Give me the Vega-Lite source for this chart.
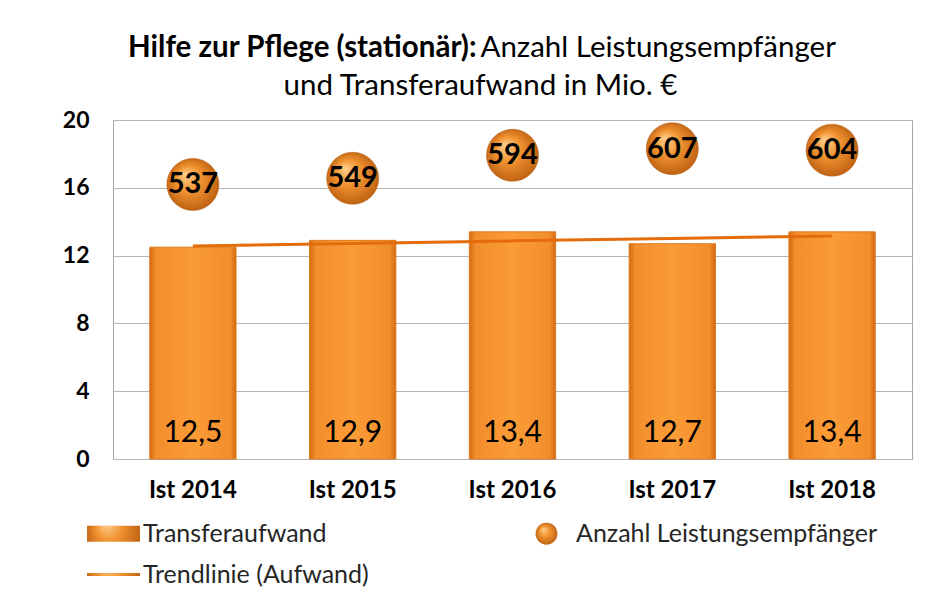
{
  "$schema": "https://vega.github.io/schema/vega-lite/v6.json",
  "width": 799,
  "height": 339,
  "autosize": {"type": "none"},
  "padding": {"left": 113, "top": 120, "right": 31, "bottom": 148},
  "background": "white",
  "data": {"values": [
    {"year": "Ist 2014", "aufwand": 12.5, "empfaenger": 537, "trend": 12.57, "series": "Anzahl Leistungsempfänger"},
    {"year": "Ist 2015", "aufwand": 12.9, "empfaenger": 549, "trend": 12.72, "series": "Anzahl Leistungsempfänger"},
    {"year": "Ist 2016", "aufwand": 13.4, "empfaenger": 594, "trend": 12.87, "series": "Anzahl Leistungsempfänger"},
    {"year": "Ist 2017", "aufwand": 12.7, "empfaenger": 607, "trend": 13.01, "series": "Anzahl Leistungsempfänger"},
    {"year": "Ist 2018", "aufwand": 13.4, "empfaenger": 604, "trend": 13.16, "series": "Anzahl Leistungsempfänger"}
  ]},
  "resolve": {"scale": {"y": "independent"}, "axis": {"x": "independent", "y": "independent"}},
  "layer": [
    {
      "layer": [
        {
          "mark": {
            "type": "bar",
            "fill": {"gradient": "linear", "x1": 0, "y1": 0, "x2": 1, "y2": 0, "stops": [
              {"offset": 0, "color": "#d26a12"},
              {"offset": 0.07, "color": "#f28e2c"},
              {"offset": 0.5, "color": "#fb9c37"},
              {"offset": 0.93, "color": "#f28e2c"},
              {"offset": 1, "color": "#d26a12"}
            ]},
            "stroke": "#dd7a1c",
            "strokeWidth": 1
          },
          "encoding": {
            "x": {"field": "year", "type": "nominal", "sort": null,
              "scale": {"paddingInner": 0.46, "paddingOuter": 0.23},
              "axis": {"orient": "bottom", "title": null, "labelAngle": 0, "labelFont": "Lato", "labelFontWeight": "bold", "labelFontSize": 24, "labelColor": "#000000", "labelPadding": 19, "ticks": false, "domain": false, "grid": false}},
            "y": {"field": "aufwand", "type": "quantitative",
              "scale": {"domain": [0, 20], "nice": false},
              "axis": {"values": [0, 4, 8, 12, 16, 20], "grid": true, "gridColor": "#b5b5b5", "domain": false, "ticks": false,
                "labelFont": "Lato", "labelFontWeight": "bold", "labelFontSize": 23, "labelColor": "#000000", "labelPadding": 24,
                "title": "und Transferaufwand in Mio. €", "titleAngle": 0, "titleX": 367, "titleY": -35, "titleAlign": "center", "titleBaseline": "middle",
                "titleFont": "Lato", "titleFontSize": 29.5, "titleFontWeight": "normal", "titleColor": "#000000"}}
          }
        },
        {
          "mark": {"type": "text", "font": "Lato", "fontSize": 30, "color": "#000000", "baseline": "middle"},
          "encoding": {
            "x": {"field": "year", "type": "nominal", "sort": null},
            "y": {"datum": 1.55},
            "text": {"field": "aufwand", "type": "quantitative", "format": ".1f"}
          }
        },
        {
          "mark": {"type": "line", "color": "#e46c0a", "strokeWidth": 3},
          "encoding": {
            "x": {"field": "year", "type": "nominal", "sort": null},
            "y": {"field": "trend", "type": "quantitative"}
          }
        }
      ]
    },
    {
      "layer": [
        {
          "mark": {
            "type": "point", "filled": true, "size": 10000, "opacity": 1,
            "fill": {"gradient": "radial", "x1": 0.35, "y1": 0.3, "r1": 0, "x2": 0.5, "y2": 0.5, "r2": 0.55, "stops": [
              {"offset": 0, "color": "#ffd08f"},
              {"offset": 0.45, "color": "#f0922f"},
              {"offset": 1, "color": "#b95d10"}
            ]},
            "stroke": "#b55a12", "strokeWidth": 0.5
          },
          "encoding": {
            "x": {"field": "year", "type": "nominal", "sort": null,
              "axis": {"orient": "top", "labels": false, "ticks": false, "domain": false, "grid": false,
                "title": "Hilfe zur Pflege (stationär):", "titleX": 363, "titleY": -73, "titleAlign": "right", "titleBaseline": "middle",
                "titleFont": "Lato", "titleFontSize": 29.5, "titleFontWeight": "bold", "titleColor": "#000000"}},
            "y": {"field": "empfaenger", "type": "quantitative",
              "scale": {"domain": [0, 663], "nice": false},
              "axis": {"orient": "right", "labels": false, "ticks": false, "domain": false, "grid": false,
                "title": "Anzahl Leistungsempfänger", "titleAngle": 0, "titleX": -432, "titleY": -73, "titleAlign": "left", "titleBaseline": "middle",
                "titleFont": "Lato", "titleFontSize": 29.5, "titleFontWeight": "normal", "titleColor": "#000000"}},
            "shape": {"field": "series", "type": "nominal",
              "scale": {
                "domain": ["Transferaufwand", "Trendlinie (Aufwand)", "Anzahl Leistungsempfänger"],
                "range": ["M-1.26,-0.38H1.26V0.38H-1.26Z", "M-1.26,-0.075H1.26V0.075H-1.26Z", "M-0.52,0A0.52,0.52,0,1,1,0.52,0A0.52,0.52,0,1,1,-0.52,0Z"]
              },
              "legend": {"orient": "none", "legendX": -21, "legendY": 392, "columns": 2, "title": null,
                "symbolSize": 1764, "labelOffset": 8, "labelFont": "Lato", "labelFontSize": 25, "labelColor": "#262626", "labelLimit": 500,
                "columnPadding": 156, "rowPadding": 6, "padding": 0,
                "symbolFillColor": "#ec8526", "symbolStrokeColor": "#d26a12", "symbolStrokeWidth": 1, "symbolOpacity": 1}}
          }
        },
        {
          "mark": {"type": "text", "font": "Lato", "fontSize": 29, "fontWeight": "bold", "color": "#000000", "baseline": "middle"},
          "encoding": {
            "x": {"field": "year", "type": "nominal", "sort": null},
            "y": {"field": "empfaenger", "type": "quantitative"},
            "text": {"field": "empfaenger", "type": "quantitative"}
          }
        }
      ]
    }
  ],
  "config": {
    "locale": {"number": {"decimal": ",", "thousands": ".", "grouping": [3], "currency": ["", " €"]}},
    "view": {"stroke": "#a6a6a6", "strokeWidth": 1}
  }
}
